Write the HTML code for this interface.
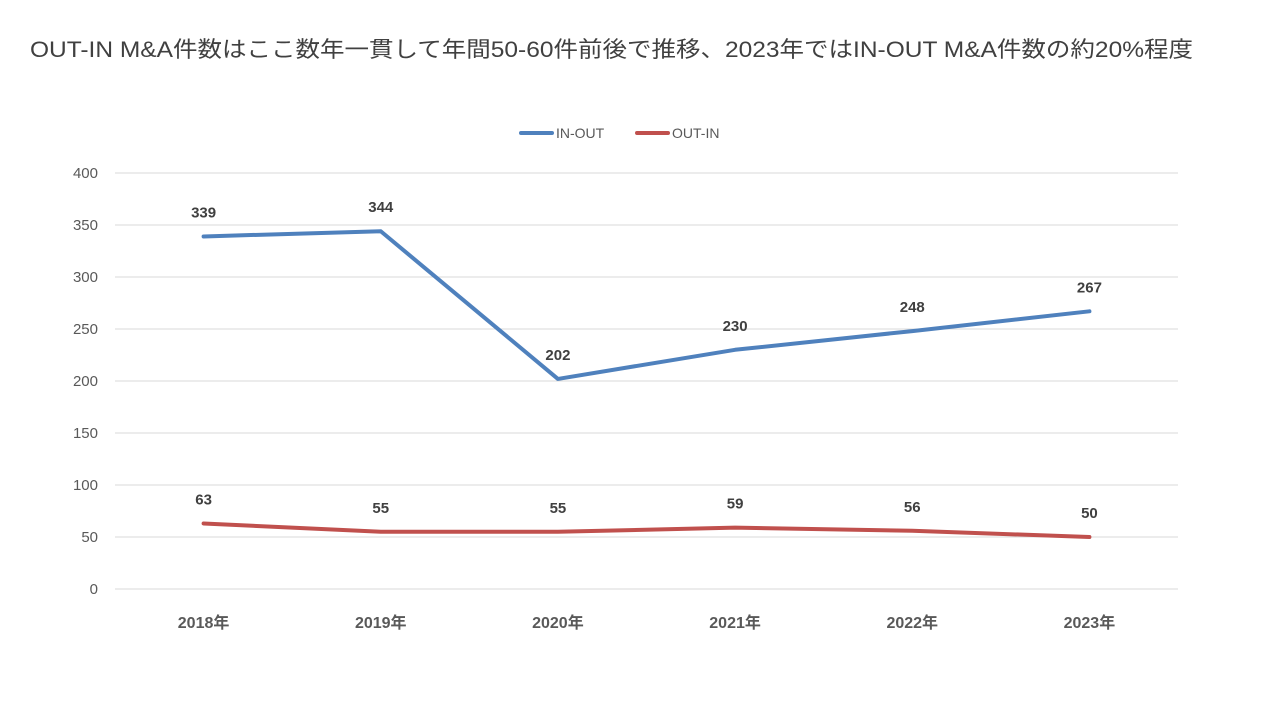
<!DOCTYPE html>
<html><head><meta charset="utf-8"><style>
body{margin:0;background:#fff;font-family:"Liberation Sans","Noto Sans CJK JP",sans-serif;}
#wrap{position:relative;width:1280px;height:720px;overflow:hidden;}
#title{position:absolute;left:30px;top:32px;font-size:22px;color:#404040;white-space:nowrap;transform-origin:0 0;}
</style></head><body>
<div id="wrap">
<div id="title">OUT-IN M&amp;A件数はここ数年一貫して年間50-60件前後で推移、2023年ではIN-OUT M&amp;A件数の約20%程度</div>
<svg id="chart" width="1280" height="720" style="position:absolute;left:0;top:0"></svg>
</div>
<script>
const categories=["2018年","2019年","2020年","2021年","2022年","2023年"];
const inOut=[339,344,202,230,248,267];
const outIn=[63,55,55,59,56,50];
const yTicks=[0,50,100,150,200,250,300,350,400];
const NS="http://www.w3.org/2000/svg";
const titleEl=document.getElementById('title');
const tw=titleEl.getBoundingClientRect().width;
titleEl.style.transform='scaleX('+(1163/tw)+')';
const svg=document.getElementById('chart');
const x0=115,x1=1178,yTop=173,yBot=589,yMax=400;
const xs=i=>x0+(x1-x0)/categories.length*(i+0.5);
const ys=v=>yBot-(v/yMax)*(yBot-yTop);
function mk(tag,attrs,parent){const e=document.createElementNS(NS,tag);for(const k in attrs)e.setAttribute(k,attrs[k]);(parent||svg).appendChild(e);return e;}
yTicks.forEach(t=>{
 const l=mk('line',{x1:x0,x2:x1,y1:ys(t),y2:ys(t),stroke:'#d9d9d9','stroke-width':1});
 
 
 const tx=mk('text',{x:98,y:ys(t)+5,'text-anchor':'end','font-size':15,fill:'#595959'});
 tx.textContent=t;
 
 
});
categories.forEach((c,i)=>{
 const tx=mk('text',{x:xs(i),y:628,'text-anchor':'middle','font-size':16,'font-weight':'bold',fill:'#595959'});
 tx.textContent=c;
 
 
});
function series(vals,color,name,dy){
 const p=mk('polyline',{points:vals.map((v,i)=>xs(i)+','+ys(v)).join(' '),fill:'none',stroke:color,'stroke-width':4,'stroke-linejoin':'round','stroke-linecap':'round'});
 
 
 vals.forEach((v,i)=>{
  const t=mk('text',{x:xs(i),y:ys(v)+dy,'text-anchor':'middle','font-size':15,'font-weight':'bold',fill:'#404040'});
  t.textContent=v;
  
  
 });
}
series(inOut,'#4f81bd','in-out',-19);
series(outIn,'#c0504d','out-in',-19);
[[521,'#4f81bd','IN-OUT'],[637,'#c0504d','OUT-IN']].forEach(([lx,c,n])=>{
 const g=mk('g',{});
 
 
 mk('line',{x1:lx,x2:lx+31,y1:133,y2:133,stroke:c,'stroke-width':4,'stroke-linecap':'round'},g);
 const t=mk('text',{x:lx+35,y:138,'font-size':14,fill:'#595959'},g);
 t.textContent=n;
});
</script>
</body></html>
